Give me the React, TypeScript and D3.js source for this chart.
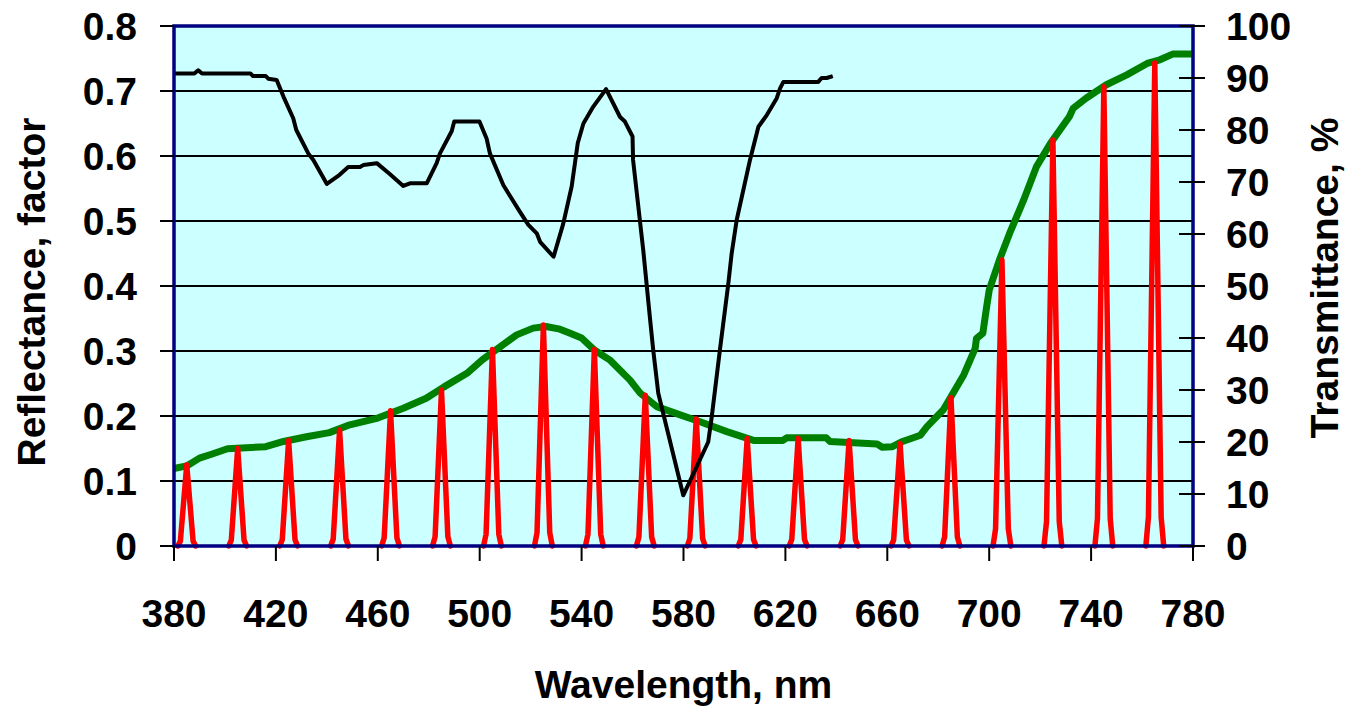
import React from "react";
import * as d3 from "d3";

// Reflectance (left axis, factor) : wavelength nm / value
const reflWl = [380, 388, 389.5, 391, 410, 411, 416, 417, 420.3, 423, 426.8, 428, 432.7, 434.7, 440, 443.2, 445, 448.4, 453, 454.3, 459.6, 464.8, 470, 472.6, 479.2, 483.1, 484.4, 489, 490, 499.9, 502.7, 504, 509.3, 515.8, 519.1, 522.4, 523.7, 529, 532.8, 536.1, 538.5, 540.7, 544.6, 549.6, 555.1, 557, 560, 560.2, 564.2, 566.9, 568.1, 570.1, 579.9, 589.7, 591.1, 594.3, 597.6, 598.9, 600.9, 606.1, 609.4, 612.7, 616.6, 617.9, 619.2, 632.9, 634.2, 636.2, 638.6];
const reflVal = [0.727, 0.727, 0.732, 0.727, 0.727, 0.723, 0.723, 0.719, 0.717, 0.691, 0.658, 0.64, 0.604, 0.594, 0.557, 0.566, 0.571, 0.583, 0.583, 0.586, 0.589, 0.572, 0.554, 0.558, 0.558, 0.589, 0.604, 0.638, 0.653, 0.653, 0.627, 0.604, 0.555, 0.514, 0.494, 0.481, 0.468, 0.445, 0.496, 0.553, 0.62, 0.65, 0.676, 0.703, 0.66, 0.653, 0.63, 0.594, 0.455, 0.348, 0.302, 0.235, 0.078, 0.16, 0.199, 0.302, 0.404, 0.45, 0.502, 0.594, 0.645, 0.663, 0.689, 0.704, 0.714, 0.714, 0.72, 0.72, 0.723];

// Transmittance (right axis, %) : wavelength nm / value
const transWl = [380, 385, 390, 395, 401, 416, 423, 432, 441, 449, 460, 470, 479, 486, 495, 501, 508, 514.5, 521, 526, 531.5, 535.5, 540, 545, 551, 559, 563, 569.5, 577, 586.5, 597, 607.5, 619, 620.5, 636, 637.5, 656, 658, 662, 666, 673, 675.5, 682, 690, 694.5, 695, 697.5, 699, 700, 704, 708, 713.5, 718.5, 724, 731.5, 733, 738, 746, 754, 762, 767, 772, 780];
const transVal = [14.9, 15.4, 16.9, 17.7, 18.7, 19.1, 20.1, 21.0, 21.8, 23.3, 24.6, 26.5, 28.4, 30.6, 33.2, 35.8, 38.3, 40.6, 41.9, 42.2, 41.7, 40.9, 40.0, 37.7, 35.8, 31.9, 29.4, 26.8, 25.5, 23.9, 22.0, 20.3, 20.3, 20.8, 20.8, 20.1, 19.6, 19.0, 19.1, 20.1, 21.3, 22.9, 26.2, 32.9, 38.0, 39.9, 40.9, 46.0, 49.2, 55.0, 60.1, 66.5, 72.9, 77.4, 82.6, 84.2, 86.1, 88.7, 90.6, 92.8, 93.5, 94.6, 94.6];

// Narrow-band peaks (right axis, %)
const peakWl = [385, 405, 425, 445, 465, 485, 505, 525, 545, 565, 585, 605, 625, 645, 665, 685, 705, 725, 745, 765];
const peakVal = [15.6, 18.8, 20.3, 22.3, 26.0, 30.0, 37.8, 42.5, 37.8, 29.0, 24.4, 20.7, 20.7, 20.3, 19.7, 28.5, 55.0, 78.1, 88.3, 92.9];
// shape of one peak: wavelength offset / fraction of peak height
const peakOffset = [-3.5, -2.5, 0, 2.5, 3.5];
const peakFrac = [0, 0.06, 1, 0.06, 0];

const xTicks = [380, 420, 460, 500, 540, 580, 620, 660, 700, 740, 780];
const yLeftTicks = [0, 0.1, 0.2, 0.3, 0.4, 0.5, 0.6, 0.7, 0.8];
const yRightTicks = [0, 10, 20, 30, 40, 50, 60, 70, 80, 90, 100];

const X0 = 174, X1 = 1193, Y0 = 546, Y1 = 26;
const FONT = "'Liberation Sans', Arial, sans-serif";
const FS = 39;

export default function App() {
  const x = d3.scaleLinear().domain([380, 780]).range([X0, X1]);
  const yL = d3.scaleLinear().domain([0, 0.8]).range([Y0, Y1]);
  const yR = d3.scaleLinear().domain([0, 100]).range([Y0, Y1]);

  const reflLine = d3.line<number>().x((_, i) => x(reflWl[i])).y((d) => yL(d));
  const transLine = d3.line<number>().x((_, i) => x(transWl[i])).y((d) => yR(d));

  const peakPath = peakWl
    .map((c, k) =>
      d3.line<number>()
        .x((o) => x(c + o))
        .y((_, i) => yR(peakVal[k] * peakFrac[i]))(peakOffset)
    )
    .join(" ");

  return (
    <svg width={1348} height={709} style={{ position: "absolute", left: 0, top: 0 }}>
      <rect x={0} y={0} width={1348} height={709} fill="#fff" />
      <rect x={X0} y={Y1} width={X1 - X0} height={Y0 - Y1} fill="#CCFFFF" />
      {yLeftTicks.slice(1, -1).map((t) => (
        <line key={"g" + t} x1={X0} x2={X1} y1={yL(t)} y2={yL(t)} stroke="#000" strokeWidth={2} />
      ))}
      <path d={transLine(transVal) || ""} fill="none" stroke="#008000" strokeWidth={7} strokeLinejoin="round" />
      <path d={peakPath} fill="none" stroke="#FF0000" strokeWidth={5.5} strokeLinejoin="round" strokeLinecap="round" />
      <path d={reflLine(reflVal) || ""} fill="none" stroke="#000" strokeWidth={4} strokeLinejoin="round" />
      {/* plot frame */}
      <rect x={X0} y={Y1} width={X1 - X0} height={Y0 - Y1} fill="none" stroke="#000080" strokeWidth={3.5} />
      {/* left ticks */}
      {yLeftTicks.map((t) => (
        <g key={"l" + t}>
          <line x1={160} x2={X0} y1={yL(t)} y2={yL(t)} stroke="#000" strokeWidth={2} />
          <text x={137} y={yL(t) + 14} textAnchor="end" fontFamily={FONT} fontWeight="bold" fontSize={FS}>
            {t === 0 ? "0" : t.toFixed(1)}
          </text>
        </g>
      ))}
      {/* right ticks */}
      {yRightTicks.map((t) => (
        <g key={"r" + t}>
          <line x1={1179} x2={1205} y1={yR(t)} y2={yR(t)} stroke="#000" strokeWidth={2} />
          <text x={1226} y={yR(t) + 14} textAnchor="start" fontFamily={FONT} fontWeight="bold" fontSize={FS}>
            {t}
          </text>
        </g>
      ))}
      {/* bottom ticks */}
      {xTicks.map((t) => (
        <g key={"b" + t}>
          <line x1={x(t)} x2={x(t)} y1={Y0} y2={561} stroke="#000" strokeWidth={2} />
          <text x={x(t)} y={627} textAnchor="middle" fontFamily={FONT} fontWeight="bold" fontSize={FS}>
            {t}
          </text>
        </g>
      ))}
      <text x={(X0 + X1) / 2} y={698} textAnchor="middle" fontFamily={FONT} fontWeight="bold" fontSize={FS}>
        Wavelength, nm
      </text>
      <text transform="translate(45,292) rotate(-90)" textAnchor="middle" fontFamily={FONT} fontWeight="bold" fontSize={FS}>
        Reflectance, factor
      </text>
      <text transform="translate(1338,278) rotate(-90)" textAnchor="middle" fontFamily={FONT} fontWeight="bold" fontSize={FS}>
        Transmittance, %
      </text>
    </svg>
  );
}
